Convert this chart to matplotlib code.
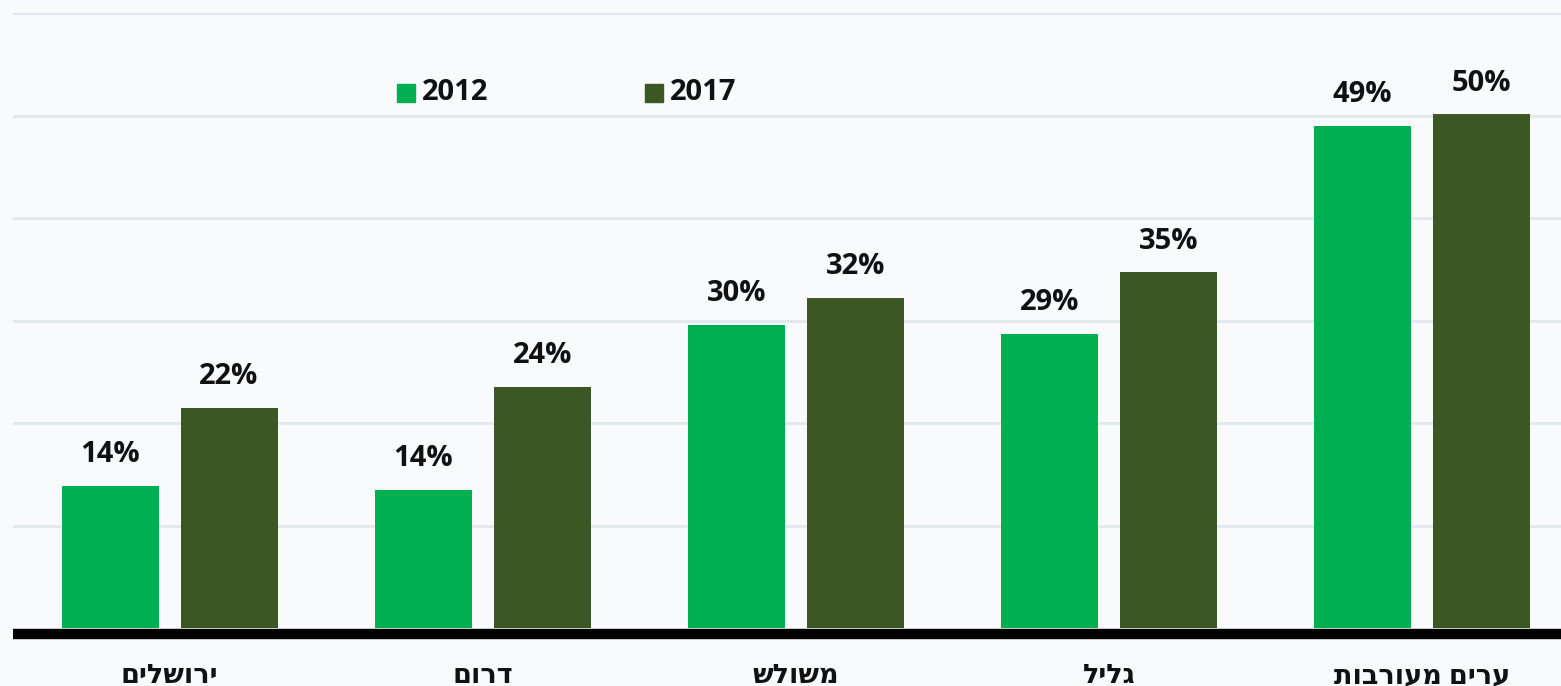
import numpy as np
import matplotlib.pyplot as plt

# regions (Hebrew, logical order)
regions = ["ירושלים", "דרום", "משולש", "גליל", "ערים מעורבות"]
vals_2012 = [13.9, 13.5, 29.6, 28.7, 49.0]
vals_2017 = [21.5, 23.5, 32.2, 34.7, 50.1]
labels_2012 = ["14%", "14%", "30%", "29%", "49%"]
labels_2017 = ["22%", "24%", "32%", "35%", "50%"]
years = ["2012", "2017"]
colors = ["#00AF50", "#3B5724"]

bg = "#F8FAFC"
fnt = ["Open Sans", "DejaVu Sans"]

fig = plt.figure(figsize=(15.61, 6.86), dpi=100, facecolor=bg)
ax = fig.add_axes([13 / 1561, 58 / 686, 1 - 13 / 1561, (628 - 13) / 686])
ax.set_facecolor(bg)

x = np.arange(len(regions))
w = 0.31
b1 = ax.bar(x - 0.19, vals_2012, w, color=colors[0], zorder=3)
b2 = ax.bar(x + 0.19, vals_2017, w, color=colors[1], zorder=3)

for bars, labs in [(b1, labels_2012), (b2, labels_2017)]:
    for r, t in zip(bars, labs):
        ax.annotate(t, (r.get_x() + r.get_width() / 2, r.get_height()),
                    xytext=(0, 12), textcoords="offset points",
                    ha="center", va="bottom", fontsize=21, fontweight="bold",
                    family=fnt, color="#111111")

# spines first (set_position resets tick settings)
for s in ["top", "right", "left"]:
    ax.spines[s].set_visible(False)
ax.spines["bottom"].set_linewidth(7.5)
ax.spines["bottom"].set_color("black")
ax.spines["bottom"].set_capstyle("butt")
ax.spines["bottom"].set_position(("outward", 4))

ax.set_xlim(-0.5, (1561 - 170) / 313)
ax.set_ylim(0, 60)
ax.set_yticks(np.arange(10, 61, 10))
ax.yaxis.grid(True, color="#E1E6EC", linewidth=1.8, zorder=0)
ax.tick_params(axis="y", left=False, labelleft=False)
ax.set_xticks(x)
ax.set_xticklabels([r[::-1] for r in regions], fontsize=19.5, fontweight="bold",
                   family=fnt, color="#111111")
ax.tick_params(axis="x", bottom=False, pad=18)

# legend
for xp, yr, c in [(397, years[0], colors[0]), (645, years[1], colors[1])]:
    fig.patches.append(plt.Rectangle((xp / 1561, (686 - 102) / 686), 18 / 1561, 18 / 686,
                                     transform=fig.transFigure, color=c))
    fig.text((xp + 25) / 1561, (686 - 92) / 686, yr, fontsize=21, fontweight="bold",
             family=fnt, va="center", ha="left", color="#111111")

fig.savefig("out.png", dpi=100, facecolor=bg)
